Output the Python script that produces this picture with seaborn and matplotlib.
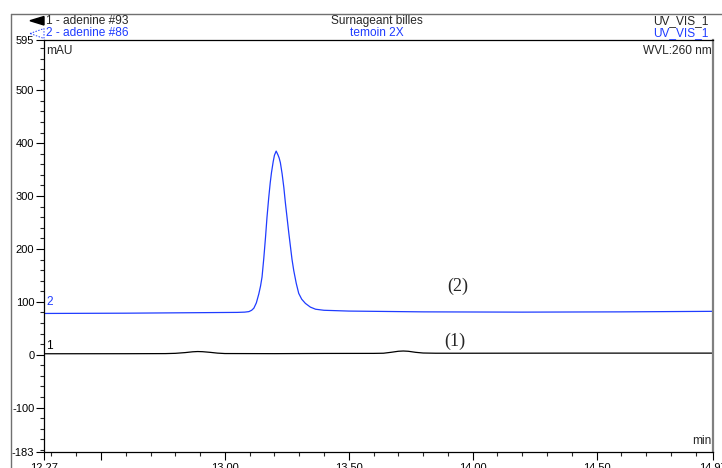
import matplotlib
matplotlib.use("Agg")
import matplotlib.pyplot as plt
import seaborn as sns
from matplotlib.lines import Line2D
from matplotlib.patches import Polygon
from matplotlib.ticker import MultipleLocator

# trace 2 - adenine #86 (temoin 2X), blue
time_blue = [12.27, 12.60, 12.90, 13.05, 13.08, 13.097, 13.108, 13.117, 13.127,
             13.137, 13.144, 13.150, 13.157, 13.164, 13.170, 13.177, 13.183,
             13.188, 13.195, 13.200, 13.207, 13.214, 13.219, 13.224, 13.231,
             13.238, 13.244, 13.251, 13.258, 13.265, 13.271, 13.278, 13.288,
             13.298, 13.310, 13.325, 13.345, 13.366, 13.40, 13.50, 13.80,
             14.20, 14.60, 14.97]
mau_blue = [78.0, 78.5, 79.5, 80.0, 80.5, 81.5, 84.0, 88.0, 98.0,
            115.0, 130.0, 147.0, 182.0, 222.0, 260.0, 297.0, 325.0,
            344.0, 365.0, 377.0, 385.0, 378.0, 372.0, 363.0, 342.0,
            316.0, 288.0, 259.0, 230.0, 203.0, 180.0, 159.0, 135.0,
            116.0, 105.0, 97.0, 90.0, 86.0, 84.0, 82.5, 81.0,
            80.5, 81.0, 82.0]

# trace 1 - adenine #93 (Surnageant billes), black
time_black = [12.27, 12.60, 12.76, 12.80, 12.84, 12.87, 12.89, 12.91, 12.94,
              12.97, 13.00, 13.20, 13.40, 13.60, 13.64, 13.67, 13.70, 13.72,
              13.74, 13.77, 13.80, 13.85, 14.00, 14.40, 14.97]
mau_black = [1.8, 1.9, 2.1, 2.6, 4.0, 5.5, 6.0, 5.7, 4.5,
             3.0, 2.2, 2.0, 2.4, 2.5, 2.8, 4.5, 6.5, 7.0,
             6.5, 4.5, 3.2, 2.8, 2.8, 3.0, 3.0]

x_ticks = [12.27, 12.50, 13.00, 13.50, 14.00, 14.50, 14.97]
x_labels = ["12.27", "", "13.00", "13.50", "14.00", "14.50", "14.97"]
y_ticks = [-183, -100, 0, 100, 200, 300, 400, 500, 595]
y_labels = ["-183", "-100", "0", "100", "200", "300", "400", "500", "595"]

sns.set_style("white")
plt.rcParams["font.family"] = ["Liberation Sans", "DejaVu Sans"]

W, H = 722, 468
fig = plt.figure(figsize=(W / 100, H / 100), dpi=100)


def px(x, y):
    # pixel position -> figure fraction
    return x / W, 1 - y / H


ax = fig.add_axes([44 / W, 1 - 451.5 / H, (713 - 44) / W, (451.5 - 40) / H])

sns.lineplot(x=time_black, y=mau_black, ax=ax, color="black", linewidth=0.9)
sns.lineplot(x=time_blue, y=mau_blue, ax=ax, color="#1f3cff", linewidth=0.9)

ax.set_xlim(12.27, 14.97)
ax.set_ylim(-183, 595)
ax.set_xticks(x_ticks)
ax.set_xticklabels(x_labels)
ax.set_yticks(y_ticks)
ax.set_yticklabels(y_labels)
ax.xaxis.set_minor_locator(MultipleLocator(0.1))
ax.yaxis.set_minor_locator(MultipleLocator(20))
ax.tick_params(axis="both", which="major", direction="out", length=6, width=0.8,
               labelsize=8, colors="black", bottom=True, left=True)
ax.tick_params(axis="both", which="minor", direction="out", length=3, width=0.8,
               bottom=True, left=True)
ax.tick_params(axis="x", pad=2)
ax.tick_params(axis="y", pad=1)
ax.set_xlabel("")
ax.set_ylabel("")
for side in ["left", "bottom", "top"]:
    ax.spines[side].set_color("black")
    ax.spines[side].set_linewidth(0.9)
ax.spines["right"].set_color("#808080")
ax.spines["right"].set_linewidth(1.6)

ax.text(0.003, 0.988, "mAU", transform=ax.transAxes, fontsize=8.6, va="top", ha="left")
ax.text(0.998, 0.988, "WVL:260 nm", transform=ax.transAxes, fontsize=8.6, va="top", ha="right")
ax.text(0.998, 0.010, "min", transform=ax.transAxes, fontsize=8.6, va="bottom", ha="right")

ax.text(12.28, 89, "2", color="#1f3cff", fontsize=8.6, va="bottom", ha="left")
ax.text(12.28, 6, "1", color="black", fontsize=8.6, va="bottom", ha="left")

ax.text(13.94, 130, "(2)", fontsize=13, family=["Liberation Serif", "DejaVu Serif"],
        ha="center", va="center")
ax.text(13.93, 26, "(1)", fontsize=13, family=["Liberation Serif", "DejaVu Serif"],
        ha="center", va="center")

# header lines
fig.text(*px(46, 21), "1 - adenine #93", fontsize=8.6, va="center", ha="left")
fig.text(*px(46, 32.8), "2 - adenine #86", fontsize=8.6, va="center", ha="left", color="#1f3cff")
fig.text(*px(377, 21), "Surnageant billes", fontsize=8.6, va="center", ha="center")
fig.text(*px(377, 32.8), "temoin 2X", fontsize=8.6, va="center", ha="center", color="#1f3cff")
fig.text(*px(709, 21), "UV_VIS_1", fontsize=8.6, va="center", ha="right")
fig.text(*px(709, 32.8), "UV_VIS_1", fontsize=8.6, va="center", ha="right", color="#1f3cff")

fig.add_artist(Polygon([px(30, 20.7), px(44, 16.5), px(44, 25)], closed=True,
                       transform=fig.transFigure, facecolor="black", edgecolor="black"))
fig.add_artist(Polygon([px(30, 33.5), px(44, 28.5), px(44, 38.5)], closed=True,
                       transform=fig.transFigure, facecolor="none", edgecolor="#1f3cff",
                       linestyle=(0, (1.5, 1.5)), linewidth=0.7))

# outer frame
fig.add_artist(Line2D([11 / W, 11 / W], [0, 1 - 14 / H], transform=fig.transFigure,
                      color="#707070", linewidth=1.0))
fig.add_artist(Line2D([11 / W, 1], [1 - 14 / H, 1 - 14 / H], transform=fig.transFigure,
                      color="#707070", linewidth=1.0))

fig.savefig("out.png", dpi=100)
